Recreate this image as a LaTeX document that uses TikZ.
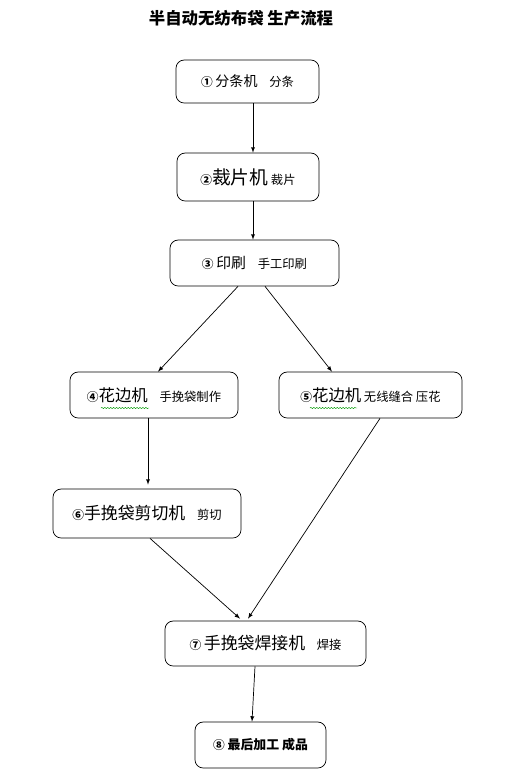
\documentclass[tikz,border=0pt]{standalone}
\usepackage{fontspec}
\setmainfont{Noto Sans CJK SC}
\usetikzlibrary{arrows,positioning,calc,decorations.pathmorphing}

\newcommand{\numc}[1]{{\bfseries\fontsize{10}{11}\selectfont #1}}
\newcommand{\bigtxt}{\fontsize{14}{16}\selectfont}
\newcommand{\smtxt}{\fontsize{10.5}{12}\selectfont}

\begin{document}
\begin{tikzpicture}[x=0.03cm, y=-0.03cm,
    box/.style={draw, line width=0.6pt, rounded corners=7pt, inner sep=0pt, align=center,
                minimum height=1.38cm},
    flow/.style={->, >=latex, semithick},
    squig/.style={green!60!black, decorate,
                  decoration={snake, amplitude=0.5pt, segment length=2.5pt}}
]
    \useasboundingbox (0,0) rectangle (510,780);

    \node[font=\bfseries\fontsize{14}{16}\selectfont] (title) at (241,18)
        {半自动无纺布袋 生产流程};

    \node[box, minimum width=4.29cm, minimum height=1.29cm] (slit) at (247.5,81.5)
        {\numc{①} {\fontsize{12}{14}\selectfont 分条机}\quad{\smtxt 分条}};

    \node[box, minimum width=4.26cm, minimum height=1.44cm] (slice) at (248,177)
        {\numc{②}{\fontsize{16}{18}\selectfont 裁片机} {\smtxt 裁片}};

    \node[box, minimum width=5.07cm] (print) at (254.5,263)
        {\numc{③} {\fontsize{12.7}{14}\selectfont 印刷}\quad{\smtxt 手工印刷}};

    \node[box, minimum width=5.04cm] (edgeA) at (154,395)
        {\numc{④}{\bigtxt 花边机}\quad{\smtxt 手挽袋制作}};

    \node[box, minimum width=5.49cm] (edgeB) at (370.5,395)
        {\numc{⑤}{\bigtxt 花边机} {\smtxt 无线缝合 压花}};

    \node[box, minimum width=5.64cm, minimum height=1.47cm] (cutter) at (147,513.5)
        {\numc{⑥}{\fontsize{14.4}{16}\selectfont 手挽袋剪切机}\quad{\smtxt 剪切}};

    \node[box, minimum width=6.03cm, minimum height=1.35cm] (weld) at (265.5,643.5)
        {\numc{⑦} {\fontsize{14.4}{16}\selectfont 手挽袋焊接机}\quad{\smtxt 焊接}};

    \node[box, minimum width=3.93cm, font=\bfseries\fontsize{11}{13}\selectfont] (final) at (260.5,745)
        {\numc{⑧} 最后加工 成品};

    % spell-check marks
    \draw[squig] (101,408) -- (149,408);
    \draw[squig] (310,408) -- (357,408);

    \draw[flow] ($(slit.south)+(5.5,0)$) -- ($(slice.north)+(5,0)$);
    \draw[flow] ($(slice.south)+(5,0)$) -- ($(print.north)+(-1.5,0)$);
    \draw[flow] ($(print.south)+(-16.5,0)$) -- ($(edgeA.north)+(4,0)$);
    \draw[flow] ($(print.south)+(10.5,0)$) -- ($(edgeB.north)+(-38.5,0)$);
    \draw[flow] ($(edgeA.south)+(-6,0)$) -- ($(cutter.north)+(1,-4)$);
    \draw[flow] ($(cutter.south)+(3,0)$) -- ($(weld.north)+(-25.5,-2)$);
    \draw[flow] ($(edgeB.south)+(9.5,0)$) -- ($(weld.north)+(-17.5,-2)$);
    \draw[flow] ($(weld.south)+(-10.5,0)$) -- ($(final.north)+(-8.5,0)$);
\end{tikzpicture}
\end{document}
